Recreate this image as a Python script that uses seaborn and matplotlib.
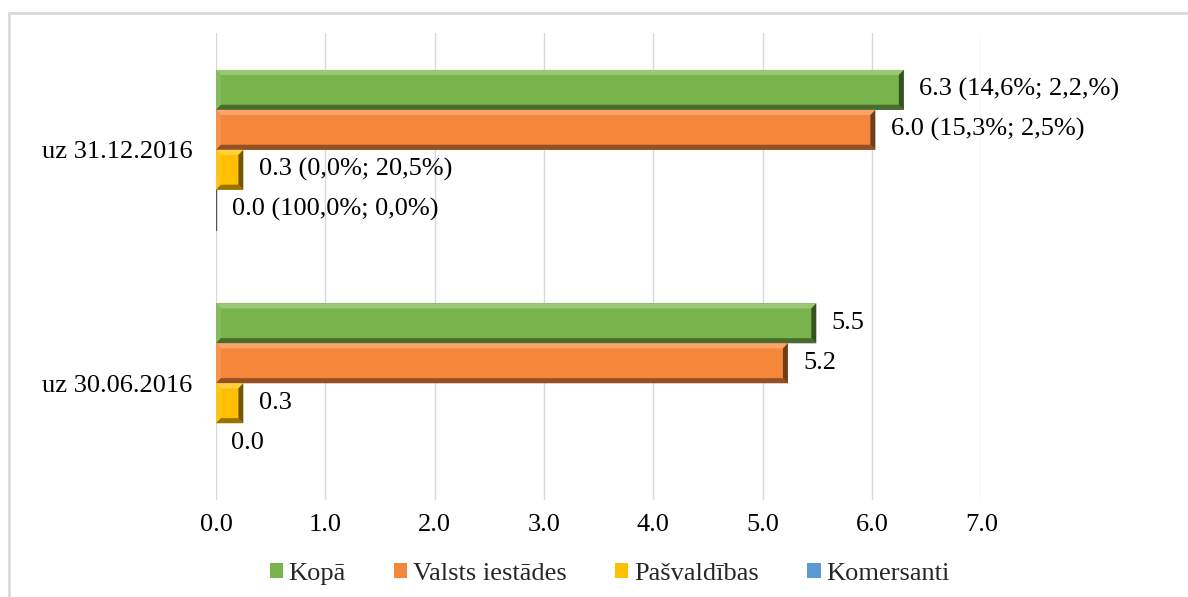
import numpy as np
import pandas as pd
import matplotlib
matplotlib.use("Agg")
import matplotlib.pyplot as plt
import matplotlib.colors as mcolors
from matplotlib.patches import Polygon, Rectangle
import seaborn as sns

# data
categories = ["uz 31.12.2016", "uz 30.06.2016"]
series = ["Kopā", "Valsts iestādes", "Pašvaldības", "Komersanti"]
kopa = [6.29, 5.49]
valsts = [6.03, 5.23]
pasvaldibas = [0.25, 0.25]
komersanti = [0.01, 0.0]
labels_dec = ["6.3 (14,6%; 2,2,%)", "6.0 (15,3%; 2,5%)", "0.3 (0,0%; 20,5%)", "0.0 (100,0%; 0,0%)"]
labels_jun = ["5.5", "5.2", "0.3", "0.0"]
colors = ["#78B44B", "#F5873A", "#FFC000", "#5B9BD5"]

df = pd.DataFrame({
    "category": np.repeat(categories, len(series)),
    "series": series * len(categories),
    "value": [v for pair in zip(kopa, valsts, pasvaldibas, komersanti) for v in pair],
    "label": labels_dec + labels_jun,
})

sns.set_theme(style="white")
plt.rcParams["font.family"] = ["Liberation Serif", "DejaVu Serif"]
FS = 19

fig = plt.figure(figsize=(11.88, 5.97), dpi=100)
ax = fig.add_axes([0.1818, 0.1625, 0.6443, 0.782])

sns.barplot(data=df, y="category", x="value", hue="series", order=categories,
            hue_order=series, palette=colors, orient="h", width=0.685, gap=0,
            linewidth=0, saturation=1, ax=ax, legend=True)

ax.set_xlim(0, 7)
ax.set_ylim(1.5, -0.5)
ax.set_xticks(np.arange(0, 8, 1))
ax.set_xticklabels([f"{t:.1f}" for t in np.arange(0, 8, 1)])
ax.grid(axis="x", color="#D9D9D9", linewidth=1)
ax.set_axisbelow(True)
for s in ax.spines.values():
    s.set_visible(False)
ax.set_xlabel("")
ax.set_ylabel("")
ax.tick_params(axis="x", length=0, pad=10, labelsize=FS, colors="black")
ax.tick_params(axis="y", length=0, pad=17, labelsize=FS, colors="black")

# bevel effect + data labels
label_map = dict(zip(zip(df["category"], df["series"]), df["label"]))
dx, dy = 0.045, 0.022
for i, s in enumerate(series):
    cont = ax.containers[i]
    for j, p in enumerate(cont.patches):
        x0, yt = p.get_x(), p.get_y()
        x1, yb = x0 + p.get_width(), yt + p.get_height()
        base = np.array(mcolors.to_rgb(p.get_facecolor()))
        if p.get_width() > 2 * dx:
            ax.add_patch(Polygon([(x0, yt), (x1, yt), (x1 - dx, yt + dy), (x0 + dx, yt + dy)],
                                 closed=True, color=tuple(np.clip(base + (1 - base) * 0.25, 0, 1)), lw=0))
            ax.add_patch(Polygon([(x0, yt), (x0 + dx, yt + dy), (x0 + dx, yb - dy), (x0, yb)],
                                 closed=True, color=tuple(np.clip(base + (1 - base) * 0.1, 0, 1)), lw=0))
            ax.add_patch(Polygon([(x0, yb), (x1, yb), (x1 - dx, yb - dy), (x0 + dx, yb - dy)],
                                 closed=True, color=tuple(base * 0.6), lw=0))
            ax.add_patch(Polygon([(x1, yt), (x1, yb), (x1 - dx, yb - dy), (x1 - dx, yt + dy)],
                                 closed=True, color=tuple(base * 0.45), lw=0))
        elif p.get_width() > 0:
            ax.plot([x0, x0], [yt, yb], color="#555555", lw=1)
        txt = label_map[(categories[j], s)]
        ax.annotate(txt, (x1, (yt + yb) / 2), xytext=(11, 0), textcoords="offset points",
                    va="center", ha="left", fontsize=FS, color="black", annotation_clip=False)
ax.set_ylim(1.5, -0.5)

handles, labs = ax.get_legend_handles_labels()
ax.get_legend().remove()
fig.legend(handles, labs, loc="center", bbox_to_anchor=(0.513, 0.038), ncol=4, frameon=False,
           fontsize=FS, handlelength=0.5, handleheight=0.5, handletextpad=0.2,
           columnspacing=1.85)

# chart border
fig.add_artist(Rectangle((9 / 1188, -0.05), 1.1, 1 - 13 / 597 + 0.05, transform=fig.transFigure,
                         fill=False, edgecolor="#D9D9D9", linewidth=2))

fig.savefig("out.png", dpi=100)
